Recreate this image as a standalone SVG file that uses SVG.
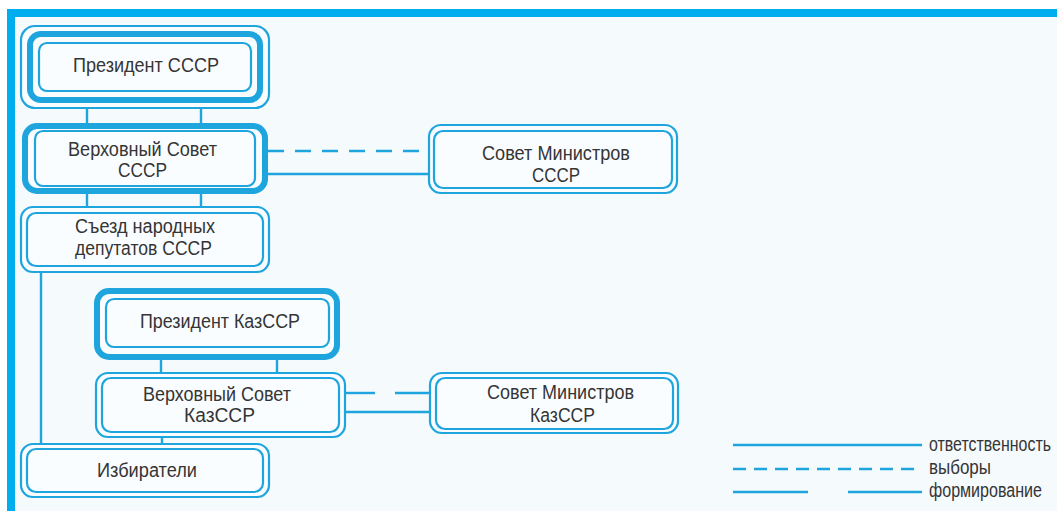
<svg xmlns="http://www.w3.org/2000/svg" width="1057" height="511" viewBox="0 0 1057 511">
<style>
.thin{fill:none;stroke:#1ea5de;stroke-width:2.2}
.thick{fill:none;stroke:#1ea5de;stroke-width:6}
.fill{fill:#fafdff}
.con{fill:none;stroke:#1ea5de;stroke-width:2.4}
.dash{stroke-dasharray:16 11}
.ldash{stroke-dasharray:13 8}
text{font-family:"Liberation Sans Narrow","Liberation Sans",Arial,sans-serif;font-size:20px;fill:#353535}
</style>
<rect x="0" y="0" width="1057" height="511" fill="#ffffff"/>
<rect x="15" y="17" width="1042" height="494" fill="#f5fafd"/>
<rect x="7" y="9" width="1050" height="8" fill="#00aeef"/>
<rect x="7" y="9" width="8" height="502" fill="#00aeef"/>

<g id="connectors">
<line class="con" x1="87" y1="108" x2="87" y2="123"/>
<line class="con" x1="201" y1="108" x2="201" y2="123"/>
<line class="con" x1="87" y1="194" x2="87" y2="207"/>
<line class="con" x1="201" y1="194" x2="201" y2="207"/>
<line class="con" x1="41" y1="272" x2="41" y2="444"/>
<line class="con" x1="161" y1="359" x2="161" y2="373"/>
<line class="con" x1="277" y1="359" x2="277" y2="373"/>
<line class="con" x1="162" y1="437" x2="162" y2="444"/>
<line class="con dash" x1="268" y1="151" x2="429" y2="151"/>
<line class="con" x1="268" y1="174" x2="429" y2="174"/>
<line class="con" x1="345" y1="393" x2="375" y2="393"/>
<line class="con" x1="395" y1="393" x2="430" y2="393"/>
<line class="con" x1="345" y1="412" x2="430" y2="412"/>
</g>

<g id="president-ussr">
<rect class="thin fill" x="21" y="26" width="248" height="82" rx="14"/>
<rect class="thick" x="30" y="34" width="230" height="66" rx="11"/>
<rect class="thin" x="39" y="43" width="212" height="48" rx="8"/>
<text x="73" y="72" textLength="146" lengthAdjust="spacingAndGlyphs">Президент СССР</text>
</g>

<g id="supreme-soviet-ussr">
<rect class="thick fill" x="25" y="126" width="240" height="65" rx="12"/>
<rect class="thin" x="35" y="131" width="220" height="55" rx="8"/>
<text x="68" y="156" textLength="149" lengthAdjust="spacingAndGlyphs">Верховный Совет</text>
<text x="118" y="177" textLength="49" lengthAdjust="spacingAndGlyphs">СССР</text>
</g>

<g id="congress">
<rect class="thin fill" x="21" y="207" width="248" height="65" rx="12"/>
<rect class="thin" x="27" y="213" width="236" height="53" rx="9"/>
<text x="75" y="233" textLength="140" lengthAdjust="spacingAndGlyphs">Съезд народных</text>
<text x="75" y="255" textLength="137" lengthAdjust="spacingAndGlyphs">депутатов СССР</text>
</g>

<g id="council-ussr">
<rect class="thin fill" x="429" y="125" width="248" height="68" rx="12"/>
<rect class="thin" x="434" y="131" width="238" height="57" rx="9"/>
<text x="482" y="160" textLength="148" lengthAdjust="spacingAndGlyphs">Совет Министров</text>
<text x="532" y="182" textLength="48" lengthAdjust="spacingAndGlyphs">СССР</text>
</g>

<g id="president-kazssr">
<rect class="thick fill" x="97" y="291" width="240" height="66" rx="12"/>
<rect class="thin" x="106" y="299" width="223" height="48" rx="8"/>
<text x="140" y="328" textLength="160" lengthAdjust="spacingAndGlyphs">Президент КазССР</text>
</g>

<g id="supreme-soviet-kazssr">
<rect class="thin fill" x="96" y="373" width="249" height="64" rx="12"/>
<rect class="thin" x="102" y="378" width="237" height="54" rx="9"/>
<text x="143" y="401" textLength="148" lengthAdjust="spacingAndGlyphs">Верховный Совет</text>
<text x="184" y="422" textLength="71" lengthAdjust="spacingAndGlyphs">КазССР</text>
</g>

<g id="council-kazssr">
<rect class="thin fill" x="430" y="373" width="248" height="60" rx="12"/>
<rect class="thin" x="436" y="378" width="237" height="51" rx="9"/>
<text x="487" y="399" textLength="147" lengthAdjust="spacingAndGlyphs">Совет Министров</text>
<text x="530" y="422" textLength="65" lengthAdjust="spacingAndGlyphs">КазССР</text>
</g>

<g id="voters">
<rect class="thin fill" x="21" y="444" width="248" height="53" rx="12"/>
<rect class="thin" x="27" y="449" width="236" height="43" rx="9"/>
<text x="97" y="477" textLength="100" lengthAdjust="spacingAndGlyphs">Избиратели</text>
</g>

<g id="legend">
<line class="con" x1="733" y1="445" x2="922" y2="445"/>
<line class="con ldash" x1="733" y1="469" x2="922" y2="469"/>
<line class="con" x1="733" y1="492" x2="808" y2="492"/>
<line class="con" x1="848" y1="492" x2="922" y2="492"/>
<text x="929" y="451" textLength="122" lengthAdjust="spacingAndGlyphs">ответственность</text>
<text x="929" y="474" textLength="62" lengthAdjust="spacingAndGlyphs">выборы</text>
<text x="929" y="497" textLength="113" lengthAdjust="spacingAndGlyphs">формирование</text>
</g>
</svg>
